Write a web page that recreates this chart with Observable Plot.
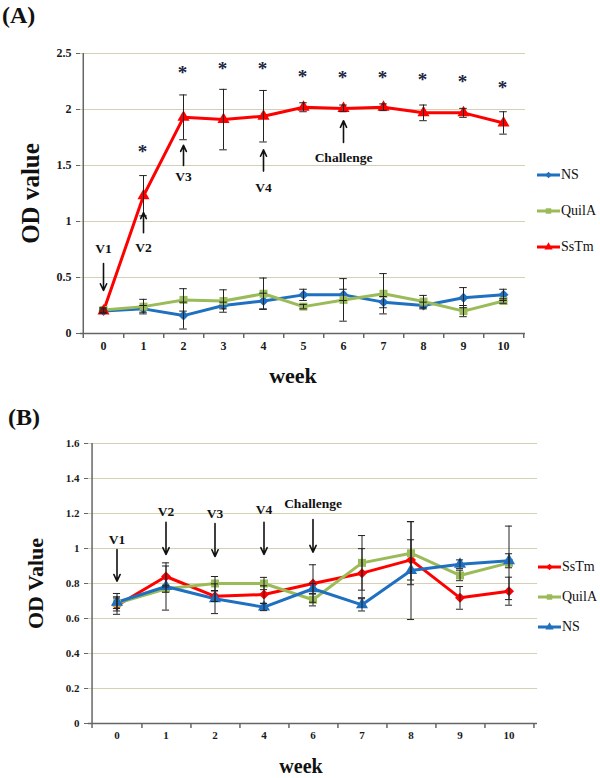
<!DOCTYPE html>
<html><head><meta charset="utf-8">
<script src="https://cdn.jsdelivr.net/npm/d3@7"></script>
<script src="https://cdn.jsdelivr.net/npm/@observablehq/plot@0.6"></script>
<style>
body{margin:0;background:#fff;}
#wrap{position:relative;width:600px;height:778px;overflow:hidden;font-family:"Liberation Serif","Times New Roman",serif;color:#111;}
.panel{position:absolute;left:0;}
.plabel{position:absolute;font-weight:bold;font-size:24px;line-height:1;}
.item{position:absolute;display:flex;align-items:center;white-space:nowrap;font-size:14px;height:16px;}
.item svg{display:block;margin-right:1px;}
svg text{font-family:"Liberation Serif","Times New Roman",serif;}
[aria-label^="x-axis"] text,[aria-label^="y-axis"] text{fill:#1a1a1a;font-weight:bold;}
</style></head><body>
<div id="wrap">
  <div class="plabel" style="left:2px;top:3px;">(A)</div>
  <div class="plabel" style="left:8px;top:405px;">(B)</div>
</div>
<script>
// ---------- Panel A data ----------
const weeksA = ["0","1","2","3","4","5","6","7","8","9","10"];
const nsA      = [0.20,0.22,0.16,0.25,0.29,0.345,0.345,0.28,0.25,0.32,0.345];
const nsErrA   = [0.02,0.03,0.12,0.03,0.07,0.05,0.05,0.05,0.03,0.09,0.05];
const quilaA   = [0.21,0.24,0.30,0.29,0.355,0.24,0.30,0.355,0.285,0.20,0.29];
const quilaErrA= [0.02,0.065,0.10,0.10,0.14,0.02,0.19,0.18,0.055,0.05,0.02];
const sstmA    = [0.20,1.23,1.93,1.91,1.94,2.02,2.01,2.02,1.97,1.97,1.88];
const sstmErrA = [0.01,0.18,0.20,0.27,0.23,0.04,0.03,0.03,0.07,0.04,0.10];
const seriesA  = ["NS","QuilA","SsTm"];
const starWeeksA = ["1","2","3","4","5","6","7","8","9","10"];
const starYA     = [1.65,2.35,2.39,2.39,2.32,2.31,2.31,2.29,2.27,2.22];
const annLabelsA = ["V1","V2","V3","V4","Challenge"];
const annWeeksA  = ["0","1","2","4","6"];
const annFromA   = [0.625,0.90,1.50,1.45,1.705];
const annToA     = [0.384,1.08,1.68,1.64,1.90];
const annTextYA  = [0.76,0.77,1.40,1.30,1.57];
const yTicksA    = [0,0.5,1,1.5,2,2.5];

// ---------- Panel B data ----------
const weeksB = ["0","1","2","4","6","7","8","9","10"];
const sstmB    = [0.674,0.84,0.727,0.737,0.80,0.859,0.935,0.718,0.756];
const sstmErrB = [0.05,0.06,0.03,0.05,0.107,0.14,0.115,0.065,0.08];
const quilaB   = [0.687,0.77,0.80,0.80,0.707,0.918,0.973,0.846,0.918];
const quilaErrB= [0.03,0.02,0.04,0.035,0.035,0.156,0.18,0.03,0.21];
const nsB      = [0.693,0.783,0.713,0.665,0.77,0.678,0.874,0.91,0.93];
const nsErrB   = [0.05,0.135,0.085,0.02,0.03,0.035,0.28,0.025,0.04];
const seriesB  = ["SsTm","QuilA","NS"];
const annLabelsB = ["V1","V2","V3","V4","Challenge"];
const annWeeksB  = ["0","1","2","4","6"];
const annFromB   = [0.994,1.15,1.143,1.15,1.166];
const annToB     = [0.813,0.966,0.954,0.966,0.979];
const annTextYB  = [1.05,1.213,1.20,1.223,1.255];
const yTicksB    = [0,0.2,0.4,0.6,0.8,1,1.2,1.4,1.6];

const COLORS = {NS:"#1f70c1", QuilA:"#9bbb59", SsTm:"#ff0000"};
const GRID = "#d4d0b4", AXIS = "#666666";

function rowsOf(weeks, list) {
  const rows = [];
  for (const s of list) weeks.forEach((w,i) => rows.push({week:w, name:s.name, value:s.values[i], err:s.errs[i]}));
  return rows;
}

function panel(o) {
  const bw = (o.width - o.ml - o.mr) / o.weeks.length;
  const rows = rowsOf(o.weeks, o.series);
  const names = o.series.map(s => s.name);
  const ann = o.annLabels.map((t,i) => ({text:t, week:o.annWeeks[i], from:o.annFrom[i], to:o.annTo[i], ty:o.annTextY[i]}));
  const capInset = (bw - 8) / 2;
  const gridVals = o.yTicks.filter(d => d > 0);
  const marks = [
    Plot.ruleY(gridVals, {y: d => d, stroke: GRID, strokeWidth: 1, shapeRendering: "crispEdges"}),
    Plot.ruleY([0], {stroke: AXIS, strokeWidth: 1.5}),
    Plot.ruleX([o.weeks[0]], {y1: o.yTicks[0], y2: o.yTicks[o.yTicks.length-1], dx: -bw/2, stroke: AXIS, strokeWidth: 1.5}),
    Plot.ruleX(o.weeks, {y1: 0, y2: 0, insetBottom: -5, dx: bw/2, stroke: AXIS, strokeWidth: 1.5}),
    Plot.ruleX([o.weeks[0]], {y1: 0, y2: 0, insetBottom: -5, dx: -bw/2, stroke: AXIS, strokeWidth: 1.5}),
    Plot.line(rows, {x: "week", y: "value", z: "name", stroke: "name", strokeWidth: 3}),
    Plot.dot(rows, {x: "week", y: "value", fill: "name", symbol: "name", r: o.r}),
    Plot.ruleX(rows, {x: "week", y1: d => d.value - d.err, y2: d => d.value + d.err, stroke: "#222", strokeWidth: 1}),
    Plot.tickY(rows, {x: "week", y: d => d.value - d.err, insetLeft: capInset, insetRight: capInset, stroke: "#222", strokeWidth: 1}),
    Plot.tickY(rows, {x: "week", y: d => d.value + d.err, insetLeft: capInset, insetRight: capInset, stroke: "#222", strokeWidth: 1}),
    Plot.arrow(ann, {x1: "week", x2: "week", y1: "from", y2: "to", stroke: "#111", strokeWidth: 1.6, headLength: 7, headAngle: 50}),
    Plot.text(ann, {x: "week", y: "ty", text: "text", fontSize: 13.5, fontWeight: "bold", fill: "#111"}),
    Plot.text([o.yTitle], {frameAnchor: "left", rotate: -90, dx: o.yTitleDx, textAnchor: "middle", lineAnchor: "middle", fontSize: o.yTitleSize, fontWeight: "bold", fill: "#111"}),
    Plot.text([o.xTitle], {frameAnchor: "bottom", dy: o.xTitleDy, dx: o.xTitleDx, textAnchor: "middle", lineAnchor: "middle", fontSize: o.xTitleSize, fontWeight: "bold", fill: "#111"})
  ];
  if (o.stars) {
    const st = o.stars.weeks.map((w,i) => ({week:w, y:o.stars.y[i]}));
    marks.push(Plot.text(st, {x: "week", y: "y", text: d => "*", dy: 3, dx: -1, fontSize: 19, fontWeight: "bold", fill: "#1b2540"}));
  }
  return Plot.plot({
    width: o.width, height: o.height,
    marginLeft: o.ml, marginRight: o.mr, marginTop: o.mt, marginBottom: o.mb,
    style: {background: "transparent", color: AXIS, fontSize: o.tickFont + "px", fontFamily: "Liberation Serif, serif", overflow: "visible"},
    x: {type: "band", domain: o.weeks, padding: 0, tickSize: 0, tickPadding: 8, label: null},
    y: {domain: [o.yTicks[0], o.yTicks[o.yTicks.length-1]], ticks: o.yTicks, tickFormat: d => String(d), tickSize: 4, tickPadding: 5, label: null},
    color: {domain: names, range: names.map(n => COLORS[n])},
    symbol: {domain: names, range: names.map(n => o.symbols[n])},
    marks
  });
}

const wrap = document.getElementById("wrap");

const svgA = panel({
  weeks: weeksA, width: 600, height: 390, ml: 80, mr: 75, mt: 53, mb: 57, r: 4.5, tickFont: 12,
  series: [{name:"NS", values:nsA, errs:nsErrA},{name:"QuilA", values:quilaA, errs:quilaErrA},{name:"SsTm", values:sstmA, errs:sstmErrA}],
  symbols: {NS:"diamond2", QuilA:"square", SsTm:"triangle"},
  annLabels: annLabelsA, annWeeks: annWeeksA, annFrom: annFromA, annTo: annToA, annTextY: annTextYA,
  yTicks: yTicksA, stars: {weeks: starWeeksA, y: starYA},
  yTitle: "OD value", yTitleDx: -50, yTitleSize: 25,
  xTitle: "week", xTitleDy: 42, xTitleDx: -10, xTitleSize: 22
});
svgA.classList.add("panel"); svgA.style.top = "0px";
wrap.appendChild(svgA);

const svgB = panel({
  weeks: weeksB, width: 600, height: 388, ml: 88, mr: 63, mt: 53, mb: 55, r: 4.5, tickFont: 11,
  series: [{name:"SsTm", values:sstmB, errs:sstmErrB},{name:"QuilA", values:quilaB, errs:quilaErrB},{name:"NS", values:nsB, errs:nsErrB}],
  symbols: {NS:"triangle", QuilA:"square", SsTm:"diamond2"},
  annLabels: annLabelsB, annWeeks: annWeeksB, annFrom: annFromB, annTo: annToB, annTextY: annTextYB,
  yTicks: yTicksB, stars: null,
  yTitle: "OD Value", yTitleDx: -53, yTitleSize: 22,
  xTitle: "week", xTitleDy: 43, xTitleDx: -12, xTitleSize: 20
});
svgB.classList.add("panel"); svgB.style.top = "390px";
wrap.appendChild(svgB);

// ---------- legends (HTML) ----------
const legendSym = {
  diamond2: () => d3.symbol(d3.symbolSquare, 22)(),
  square: () => d3.symbol(d3.symbolSquare, 30)(),
  triangle: () => d3.symbol(d3.symbolTriangle, 30)()
};
function legend(names, symbols, left, tops) {
  names.forEach((n, i) => {
    const div = document.createElement("div");
    div.className = "item";
    div.style.left = left + "px";
    div.style.top = (tops[i] - 8) + "px";
    const s = d3.create("svg").attr("width", 23).attr("height", 16);
    s.append("line").attr("x1", 0).attr("x2", 23).attr("y1", 8).attr("y2", 8).attr("stroke", COLORS[n]).attr("stroke-width", 3);
    s.append("path").attr("transform", "translate(11.5,8)" + (symbols[n] === "diamond2" ? " rotate(45)" : ""))
      .attr("d", legendSym[symbols[n]]()).attr("fill", COLORS[n]);
    div.appendChild(s.node());
    const t = document.createElement("span");
    t.textContent = n;
    div.appendChild(t);
    wrap.appendChild(div);
  });
}
legend(seriesA, {NS:"diamond2", QuilA:"square", SsTm:"triangle"}, 537, [175, 211, 247]);
legend(seriesB, {NS:"triangle", QuilA:"square", SsTm:"diamond2"}, 538, [567, 597, 627]);
</script>
</body></html>
